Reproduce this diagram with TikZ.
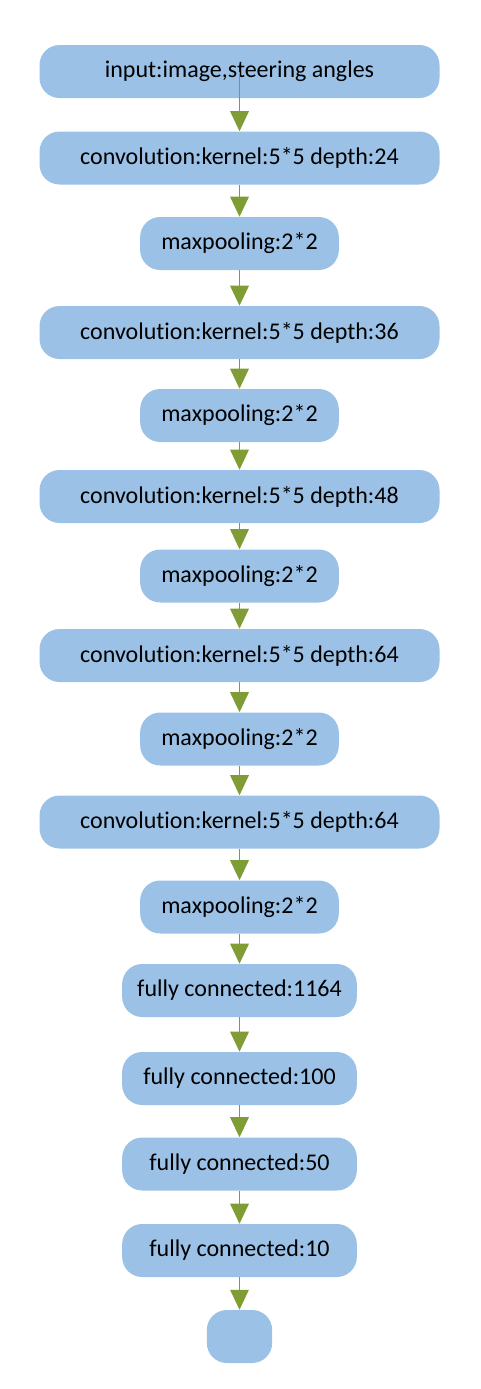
\documentclass[tikz,border=0pt]{standalone}
\usepackage{fontspec}
\setmainfont{Carlito}[Ligatures=NoCommon]
\usetikzlibrary{arrows.meta}
\definecolor{boxblue}{HTML}{9BC2E6}
\definecolor{arrowgreen}{HTML}{7F9D34}
\tikzset{
  layer/.style={fill=boxblue,rounded corners=15pt,minimum height=39.75pt,inner sep=0pt,
    font=\fontsize{18}{21}\selectfont,text=black},
  widebox/.style={layer,minimum width=300pt},
  poolbox/.style={layer,minimum width=149pt},
  fcbox/.style={layer,minimum width=176pt},
  endbox/.style={layer,minimum width=49pt},
  flow/.style={draw=arrowgreen,line width=0.75pt,-{Triangle[width=14pt,length=15pt,fill=arrowgreen]}}
}
\begin{document}
\begin{tikzpicture}[x=0.75pt,y=-0.75pt]
        \useasboundingbox (0,0) rectangle (481,1389);
        %% convolution part
        \node[widebox] (in) at (239.5,71.5) {input:image,steering angles};
        \node[widebox] (c1) at (239.5,158) {convolution:kernel:5*5 depth:24};
        \node[poolbox] (m1) at (239.5,243.5) {maxpooling:2*2};
        \node[widebox] (c2) at (239.5,332.5) {convolution:kernel:5*5 depth:36};
        \node[poolbox] (m2) at (239.5,415.5) {maxpooling:2*2};
        \node[widebox] (c3) at (239.5,496.5) {convolution:kernel:5*5 depth:48};
        \node[poolbox] (m3) at (239.5,576) {maxpooling:2*2};
        \node[widebox] (c4) at (239.5,655.5) {convolution:kernel:5*5 depth:64};
        \node[poolbox] (m4) at (239.5,739) {maxpooling:2*2};
        \node[widebox] (c5) at (239.5,822) {convolution:kernel:5*5 depth:64};
        \node[poolbox] (m5) at (239.5,907) {maxpooling:2*2};
        %% fully connected part
        \node[fcbox] (f1) at (239.5,990.5) {fully connected:1164};
        \node[fcbox] (f2) at (239.5,1078.5) {fully connected:100};
        \node[fcbox] (f3) at (239.5,1164) {fully connected:50};
        \node[fcbox] (f4) at (239.5,1250.5) {fully connected:10};
        \node[endbox] (out) at (239.5,1336.5) {};
        %% arrows
        \draw[flow] (in.center) -- (c1.north);
        \foreach \a/\b in {c1/m1,m1/c2,c2/m2,m2/c3,c3/m3,m3/c4,c4/m4,m4/c5,c5/m5,m5/f1,f1/f2,f2/f3,f3/f4,f4/out}
            \draw[flow] (\a.south) -- (\b.north);
\end{tikzpicture}
\end{document}
